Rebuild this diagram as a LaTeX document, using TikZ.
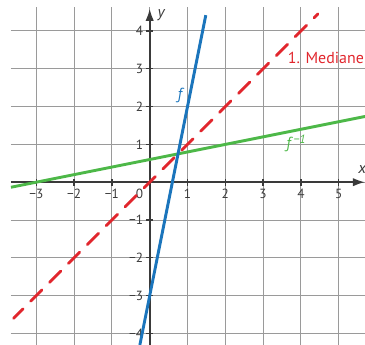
\documentclass[tikz,border=0pt]{standalone}
\usepackage{fontspec}
\setmainfont{PT Sans}
\usetikzlibrary{arrows.meta}
\definecolor{gridgray}{HTML}{9A9A9A}
\definecolor{axisgray}{HTML}{3A3A3A}
\definecolor{fblue}{HTML}{1B75BC}
\definecolor{mred}{HTML}{E1262D}
\definecolor{igreen}{HTML}{4DB848}
\begin{document}
\begin{tikzpicture}[x=1cm,y=1cm,
  gridline/.style={gridgray, line width=0.75pt},
  axisline/.style={axisgray, line width=1.3pt},
  tickmark/.style={axisgray, line width=1pt},
  ticklabel/.style={font=\fontsize{10}{10}\selectfont, text=axisgray, inner sep=0pt},
  graphline/.style={line width=2.2pt},
  axislabel/.style={font=\fontsize{12}{12}\selectfont\itshape, text=axisgray, inner sep=0pt},
  curvelabel/.style={font=\fontsize{12}{12}\selectfont, inner sep=0pt},
]
\useasboundingbox (-3.96,-4.305) rectangle (5.696,4.82);
% grid
\draw[gridline] (-3.67,-4.305) grid (5.696,4.63);
% axes
\coordinate (xs) at (-3.67,0);
\coordinate (xe) at (5.696,0);
\coordinate (ys) at (0,-4.305);
\coordinate (ye) at (0,4.59);
\draw[axisline, -{Latex[length=0.32cm,width=0.22cm]}] (xs) -- (xe);
\draw[axisline, -{Latex[length=0.32cm,width=0.22cm]}] (ys) -- (ye);
% ticks
\foreach \i/\t in {-3/−3,-2/−2,-1/−1,1/1,2/2,3/3,4/4,5/5}{
  \draw[tickmark] (\i,-0.09) -- (\i,0.09);
  \node[ticklabel] (xl\i) at (\i,-0.3) {\t};
}
\foreach \j/\t in {-4/−4,-3/−3,-2/−2,-1/−1,1/1,2/2,3/3,4/4}{
  \draw[tickmark] (-0.09,\j) -- (0.09,\j);
  \node[ticklabel, anchor=east] (yl\j) at (-0.17,\j) {\t};
}
\node[ticklabel, anchor=east] (zero) at (-0.17,-0.3) {0};
\node[axislabel] (xlab) at (5.62,0.34) {x};
\node[axislabel] (ylab) at (0.30,4.42) {y};
% graphs
\coordinate (g1) at (-3.67,-0.134);
\coordinate (g2) at (5.696,1.739);
\draw[igreen, graphline] (g1) -- (g2);
\coordinate (m1) at (-3.6,-3.6);
\coordinate (m2) at (4.45,4.45);
\draw[mred, graphline, line cap=round, dash pattern=on 0.42cm off 0.287cm, dash phase=0.0685cm] (m1) -- (m2);
\coordinate (f1) at (-0.26,-4.305);
\coordinate (f2) at (1.484,4.42);
\draw[fblue, graphline] (f1) -- (f2);
% labels
\node[curvelabel, text=fblue, font=\fontsize{12}{12}\selectfont\itshape] (flab) at (0.80,2.30) {f};
\node[curvelabel, text=igreen, font=\fontsize{12}{12}\selectfont\itshape] (finv) at (3.87,1.03) {f\,\raisebox{0.55ex}{\fontsize{9}{9}\selectfont −1}};
\node[curvelabel, text=mred] (med) at (4.66,3.28) {1. Mediane};
\end{tikzpicture}
\end{document}
